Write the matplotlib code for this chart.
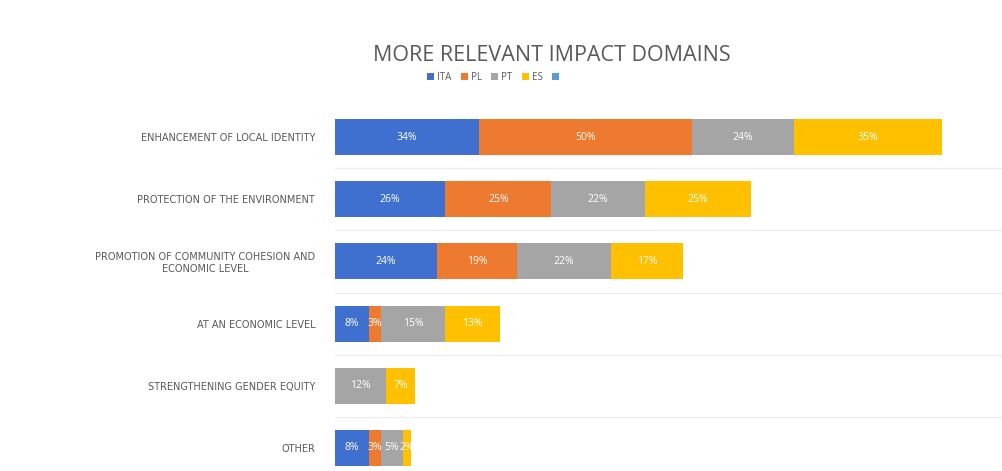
import numpy as np
import matplotlib.pyplot as plt

plt.rcParams['font.family'] = ['Open Sans', 'DejaVu Sans']

categories = ['ENHANCEMENT OF LOCAL IDENTITY',
              'PROTECTION OF THE ENVIRONMENT',
              'PROMOTION OF COMMUNITY COHESION AND\nECONOMIC LEVEL',
              'AT AN ECONOMIC LEVEL',
              'STRENGTHENING GENDER EQUITY',
              'OTHER']
ita = [34, 26, 24, 8, 0, 8]
pl = [50, 25, 19, 3, 0, 3]
pt = [24, 22, 22, 15, 12, 5]
es = [35, 25, 17, 13, 7, 2]
series = [('ITA', ita, '#3f6fcf'), ('PL', pl, '#ed7a2f'),
          ('PT', pt, '#a5a5a5'), ('ES', es, '#ffc000')]

fig = plt.figure(figsize=(10.02, 4.71), dpi=100)
ax = fig.add_axes([0.334, 0.0, 0.666, 0.775])

y = np.arange(len(categories))
left = np.zeros(len(categories))
for name, vals, col in series:
    vals = np.array(vals, dtype=float)
    bars = ax.barh(y, vals, left=left, height=0.58, color=col, label=name)
    for b, v in zip(bars, vals):
        if v > 0:
            ax.text(b.get_x() + b.get_width() / 2, b.get_y() + b.get_height() / 2,
                    f'{int(v)}%', ha='center', va='center', color='white', fontsize=7.5)
    left += vals

# empty fifth legend entry as in the original
ax.barh([0], [0], color='#5b9bd5', label=' ')

# faint separators between rows
for s in np.arange(0.5, len(categories) - 0.5, 1):
    ax.axhline(s, color='#ececec', lw=0.8, zorder=0)

ax.set_xlim(0, 157)
ax.set_ylim(5.37, -0.5)
ax.set_yticks(y)
ax.set_yticklabels(categories, fontsize=7, color='#595959', family='DejaVu Sans',
                   multialignment='center')
ax.tick_params(axis='y', length=0, pad=14)
ax.set_xticks([])
for sp in ax.spines.values():
    sp.set_visible(False)

fig.text(0.551, 0.882, 'MORE RELEVANT IMPACT DOMAINS', ha='center', va='center',
         fontsize=15.5, color='#595959')
fig.legend(loc='center', bbox_to_anchor=(0.495, 0.836), ncol=5, frameon=False,
           fontsize=7, labelcolor='#595959', handlelength=0.7, handleheight=0.7,
           handletextpad=0.3, columnspacing=1.0)

fig.savefig('out.png', dpi=100)
